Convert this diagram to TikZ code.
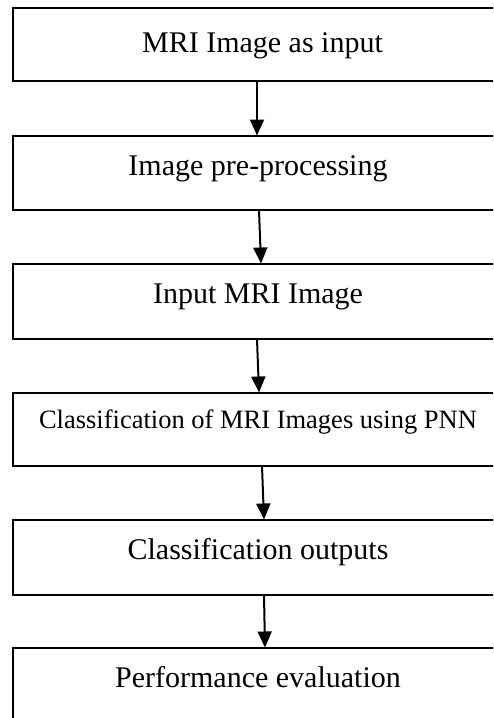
\documentclass[tikz,border=0pt]{standalone}
\usepackage{fontspec}
\setmainfont{Liberation Serif}
\usetikzlibrary{arrows.meta}
\tikzset{
  stage/.style={draw=black, line width=1.8pt, rectangle, inner sep=0pt, outer sep=0pt,
    minimum width=490pt, anchor=north, align=center,
    font=\fontsize{30}{34}\selectfont, text height=#1, text depth=74pt-#1},
  stage/.default=39pt,
  flow/.style={line width=2pt, -{Triangle[width=14pt,length=16pt]}, shorten >=0.5pt}
}
\begin{document}
\begin{tikzpicture}[x=1pt,y=-1pt]
  \useasboundingbox (0,0) rectangle (493,718);
  \clip (0,0) rectangle (493,718);
  \fill[white] (0,0) rectangle (493,718);

  \node[stage=44pt, text depth=29pt] (b1) at (258,8) {\hspace*{9pt}MRI Image as input};
  \node[stage] (b2) at (258,136) {Image pre-processing};
  \node[stage, text depth=36pt] (b3) at (258,264) {Input MRI Image};
  \node[stage=35pt, text depth=38pt, font=\fontsize{26.5}{30}\selectfont] (b4) at (258,393) {Classification of MRI Images using PNN};
  \node[stage, text depth=36pt] (b5) at (258,520) {Classification outputs};
  \node[stage, text depth=40pt] (b6) at (258,648) {Performance evaluation};

  \draw[flow] ([xshift=-1pt]b1.south) -- ([xshift=-1pt]b2.north);
  \draw[flow] ([xshift=1pt]b2.south) -- ([xshift=3pt]b3.north);
  \draw[flow] ([xshift=-1pt]b3.south) -- ([xshift=1pt]b4.north);
  \draw[flow] ([xshift=4pt]b4.south) -- ([xshift=6pt]b5.north);
  \draw[flow] ([xshift=6pt]b5.south) -- ([xshift=7pt]b6.north);
\end{tikzpicture}
\end{document}
